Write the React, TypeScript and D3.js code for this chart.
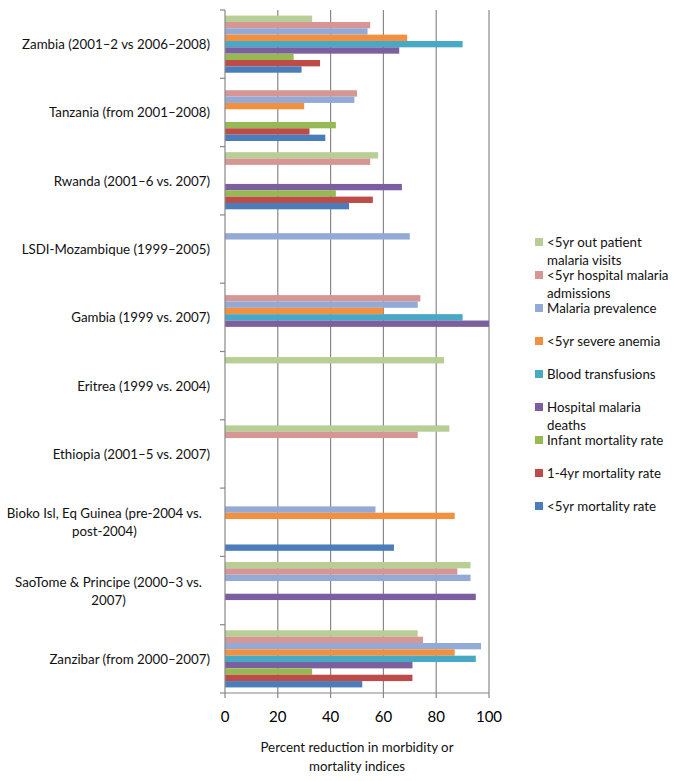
import React, { useEffect, useRef } from 'react';
import * as d3 from 'd3';

// categories, top to bottom ('\n' marks where the label wraps)
const countries = [
  'Zambia (2001–2 vs 2006–2008)',
  'Tanzania (from 2001–2008)',
  'Rwanda (2001–6 vs. 2007)',
  'LSDI-Mozambique (1999–2005)',
  'Gambia (1999 vs. 2007)',
  'Eritrea (1999 vs. 2004)',
  'Ethiopia (2001–5 vs. 2007)',
  'Bioko Isl, Eq Guinea (pre-2004 vs.\npost-2004)',
  'SaoTome & Principe (2000–3 vs.\n2007)',
  'Zanzibar (from 2000–2007)',
];

// series names, in the order they sit inside each group (top to bottom)
const seriesNames = [
  '<5yr out patient\nmalaria visits',
  '<5yr hospital malaria\nadmissions',
  'Malaria prevalence',
  '<5yr severe anemia',
  'Blood transfusions',
  'Hospital malaria\ndeaths',
  'Infant mortality rate',
  '1-4yr mortality rate',
  '<5yr mortality rate',
];

const seriesColors = ['#b7cf95', '#d59694', '#93aad6', '#f39040', '#47a9c4', '#7c5f9f', '#97b954', '#bd4b48', '#4a7dba'];

// percent reduction per country (null = not reported)
const outpatientVisits = [33, null, 58, null, null, 83, 85, null, 93, 73];
const hospitalAdmissions = [55, 50, 55, null, 74, null, 73, null, 88, 75];
const malariaPrevalence = [54, 49, null, 70, 73, null, null, 57, 93, 97];
const severeAnemia = [69, 30, null, null, 60, null, null, 87, null, 87];
const bloodTransfusions = [90, null, null, null, 90, null, null, null, null, 95];
const hospitalDeaths = [66, null, 67, null, 100, null, null, null, 95, 71];
const infantMortality = [26, 42, 42, null, null, null, null, null, null, 33];
const mortality1to4 = [36, 32, 56, null, null, null, null, null, null, 71];
const mortalityUnder5 = [29, 38, 47, null, null, null, null, 64, null, 52];

const seriesValues = [
  outpatientVisits, hospitalAdmissions, malariaPrevalence, severeAnemia, bloodTransfusions,
  hospitalDeaths, infantMortality, mortality1to4, mortalityUnder5,
];

const xTicks = [0, 20, 40, 60, 80, 100];

const App: React.FC = () => {
  const svgRef = useRef<SVGSVGElement>(null);

  useEffect(() => {
    if (!svgRef.current) return;
    const width = 685;
    const height = 781;
    const left = 225;
    const right = 489;
    const top = 10;
    const bottom = 693;
    const font = 'Lato, "Open Sans", sans-serif';
    const fontSize = 13.3;
    const gridColor = '#888';

    d3.select(svgRef.current).selectAll('*').remove();
    const svg = d3.select(svgRef.current).attr('width', width).attr('height', height);

    const x = d3.scaleLinear().domain([0, 100]).range([left, right]);
    const y = d3.scaleBand<number>().domain(d3.range(countries.length)).range([top, bottom]);
    const ySeries = d3.scaleBand<number>().domain(d3.range(seriesNames.length))
      .range([0, y.bandwidth()]).paddingOuter(0.88).paddingInner(0);

    // vertical gridlines
    svg.append('g')
      .selectAll('line')
      .data(xTicks.slice(1))
      .enter()
      .append('line')
      .attr('x1', d => x(d)).attr('x2', d => x(d))
      .attr('y1', top).attr('y2', bottom + 5)
      .attr('stroke', gridColor).attr('stroke-width', 1.2);

    // bars
    const groups = svg.append('g')
      .selectAll('g')
      .data(seriesValues)
      .enter()
      .append('g')
      .attr('fill', (d, i) => seriesColors[i]);

    groups.each(function (vals, si) {
      d3.select(this)
        .selectAll('rect')
        .data(vals.map((v, ci) => ({ v, ci })).filter(d => d.v !== null))
        .enter()
        .append('rect')
        .attr('x', x(0))
        .attr('y', d => y(d.ci)! + ySeries(si)!)
        .attr('width', d => x(d.v as number) - x(0))
        .attr('height', ySeries.bandwidth());
    });

    // left axis line and category ticks
    svg.append('line')
      .attr('x1', x(0)).attr('x2', x(0)).attr('y1', top).attr('y2', bottom + 5)
      .attr('stroke', gridColor).attr('stroke-width', 1.2);
    svg.append('g')
      .selectAll('line')
      .data(d3.range(countries.length + 1))
      .enter()
      .append('line')
      .attr('x1', x(0) - 5).attr('x2', x(0))
      .attr('y1', d => top + d * y.step()).attr('y2', d => top + d * y.step())
      .attr('stroke', gridColor).attr('stroke-width', 1.2);

    // bottom axis line
    svg.append('line')
      .attr('x1', x(0)).attr('x2', x(100)).attr('y1', bottom).attr('y2', bottom)
      .attr('stroke', gridColor).attr('stroke-width', 1.2);

    // x tick labels
    svg.append('g')
      .selectAll('text')
      .data(xTicks)
      .enter()
      .append('text')
      .attr('x', d => x(d)).attr('y', 722)
      .attr('text-anchor', 'middle')
      .attr('font-family', font).attr('font-size', 15)
      .text(d => d);

    // category labels
    const labelRight = 210;
    countries.forEach((name, i) => {
      const lines = name.split('\n');
      const cy = y(i)! + y.bandwidth() / 2;
      const t = svg.append('text')
        .attr('font-family', font).attr('font-size', fontSize).attr('fill', '#111')
        .attr('text-anchor', lines.length > 1 ? 'middle' : 'end');
      lines.forEach((ln, k) => {
        t.append('tspan')
          .attr('x', labelRight)
          .attr('y', cy + (k - (lines.length - 1) / 2) * 18 + 5)
          .text(ln);
      });
      if (lines.length > 1) {
        const w = d3.max(t.selectAll<SVGTSpanElement, unknown>('tspan').nodes(), n => n.getComputedTextLength()) || 0;
        t.selectAll('tspan').attr('x', Math.max(labelRight - 8 - w / 2, w / 2 + 6));
      }
    });

    // axis title
    svg.append('text')
      .attr('font-family', font).attr('font-size', fontSize).attr('fill', '#111')
      .attr('text-anchor', 'middle')
      .selectAll('tspan')
      .data(['Percent reduction in morbidity or', 'mortality indices'])
      .enter()
      .append('tspan')
      .attr('x', (left + right) / 2)
      .attr('y', (d, i) => 752 + i * 19)
      .text(d => d);

    // legend
    const legend = svg.append('g');
    seriesNames.forEach((name, i) => {
      const ly = 242 + i * 33;
      legend.append('rect')
        .attr('x', 535).attr('y', ly - 4).attr('width', 8).attr('height', 8)
        .attr('fill', seriesColors[i]);
      const t = legend.append('text')
        .attr('font-family', font).attr('font-size', fontSize).attr('fill', '#111');
      name.split('\n').forEach((ln, k) => {
        t.append('tspan').attr('x', 547).attr('y', ly + 5 + k * 18).text(ln);
      });
    });
  }, []);

  return (
    <div style={{ position: 'absolute', left: 0, top: 0, background: '#fff' }}>
      <svg ref={svgRef}></svg>
    </div>
  );
};

export default App;
